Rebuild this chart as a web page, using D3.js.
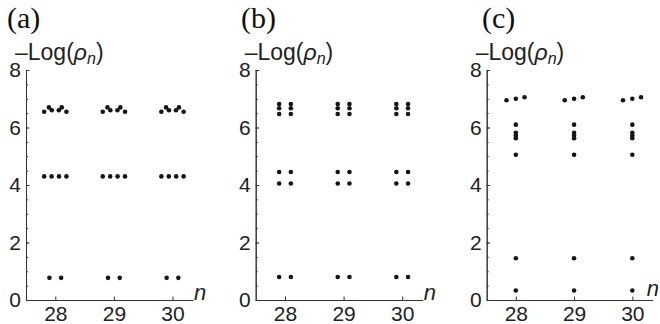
<!DOCTYPE html>
<html>
<head>
<meta charset="utf-8">
<script src="https://cdn.jsdelivr.net/npm/d3@7"></script>
<style>
    body { margin: 0; background: #fff; }
    svg { display: block; }
    .axis path, .axis line { stroke: #333; stroke-width: 1; }
    .axis text { font-family: "Liberation Sans", Arial, sans-serif; font-size: 21px; fill: #222; }
    .panel-title { font-family: "Liberation Serif", "Times New Roman", serif; font-size: 30px; fill: #111; }
    .y-label { font-family: "Liberation Sans", Arial, sans-serif; font-size: 23px; fill: #222; }
    .n-label { font-family: "Liberation Sans", Arial, sans-serif; font-size: 22px; fill: #222; }
    .dot { fill: #151515; }
</style>
</head>
<body>
<svg id="chart" width="660" height="324"></svg>
<script>
// values
const nValues = [28, 29, 30];
const yTicks = [0, 2, 4, 6, 8];
const panelNames = ["(a)", "(b)", "(c)"];

// each cluster is [offset from n, -Log(rho_n)], same pattern repeated at n = 28, 29, 30
const clusterA = [
    [-0.19, 6.55], [-0.11, 6.70], [-0.06, 6.60], [0.06, 6.60], [0.11, 6.70], [0.19, 6.55],
    [-0.19, 4.30], [-0.063, 4.30], [0.063, 4.30], [0.19, 4.30],
    [-0.10, 0.77], [0.10, 0.77]
];
const clusterB = [
    [-0.10, 6.82], [-0.10, 6.67], [-0.10, 6.47],
    [0.10, 6.82], [0.10, 6.67], [0.10, 6.47],
    [-0.10, 4.45], [-0.10, 4.05], [0.10, 4.45], [0.10, 4.05],
    [-0.10, 0.80], [0.10, 0.80]
];
const clusterC = [
    [-0.16, 6.95], [0, 7.00], [0.15, 7.05],
    [0, 6.10], [0, 5.82], [0, 5.72], [0, 5.63], [0, 5.05],
    [0, 1.45], [0, 0.33]
];
const clusters = [clusterA, clusterB, clusterC];

const X_DOMAIN = [27.5, 30.35];
const Y_DOMAIN = [0, 8];

// panel layout (pixel positions of each axis block)
const PANELS = [
    {left: 26,    width: 167, titleX: 7,   nX: 168, nY: 300},
    {left: 255.7, width: 167, titleX: 241, nX: 168, nY: 300},
    {left: 486.7, width: 166, titleX: 482, nX: 160, nY: 296}
];
const TOP = 70, BOTTOM = 300;

let svg = d3.select("#chart");

PANELS.forEach((p, i) => {
    let g = svg.append("g").attr("transform", `translate(${p.left},0)`);

    let x = d3.scaleLinear().domain(X_DOMAIN).range([0, p.width]);
    let y = d3.scaleLinear().domain(Y_DOMAIN).range([BOTTOM, TOP]);

    // minor y ticks every 0.5
    g.append("g")
        .attr("class", "axis axis-y-minor")
        .call(d3.axisLeft(y)
            .tickValues(d3.range(0, 8.01, 0.5))
            .tickSizeInner(-2)
            .tickSizeOuter(0)
            .tickFormat(""));

    // major y ticks
    g.append("g")
        .attr("class", "axis axis-y")
        .call(d3.axisLeft(y)
            .tickValues(yTicks)
            .tickSizeInner(-3.5)
            .tickSizeOuter(0)
            .tickPadding(5)
            .tickFormat(d3.format("d")));

    // x axis
    g.append("g")
        .attr("class", "axis axis-x")
        .attr("transform", `translate(0,${BOTTOM})`)
        .call(d3.axisBottom(x)
            .tickValues(nValues)
            .tickSizeInner(-3.5)
            .tickSizeOuter(0)
            .tickPadding(6)
            .tickFormat(d3.format("d")));

    g.selectAll(".axis text").attr("font-family", null).attr("font-size", null);

    // n label at end of x axis
    g.append("text")
        .attr("class", "n-label")
        .attr("x", p.nX)
        .attr("y", p.nY)
        .style("font-style", "italic")
        .text("n");

    // y label  -Log(rho_n), one text element with tspans
    let yl = g.append("text")
        .attr("class", "y-label")
        .attr("x", -11)
        .attr("y", 60);
    yl.append("tspan").text("\u2013Log(");
    yl.append("tspan").style("font-style", "italic").text("\u03C1");
    yl.append("tspan").style("font-style", "italic").attr("font-size", 16).attr("dy", 4).text("n");
    yl.append("tspan").attr("dy", -4).text(")");

    // panel title
    svg.append("text")
        .attr("class", "panel-title")
        .attr("x", p.titleX)
        .attr("y", 28)
        .text(panelNames[i]);

    // dots
    let pts = [];
    nValues.forEach(n => clusters[i].forEach(d => pts.push([n + d[0], d[1]])));

    g.selectAll("circle.dot")
        .data(pts)
        .enter().append("circle")
            .attr("class", "dot")
            .attr("cx", d => x(d[0]))
            .attr("cy", d => y(d[1]))
            .attr("r", 2.3);
});
</script>
</body>
</html>
